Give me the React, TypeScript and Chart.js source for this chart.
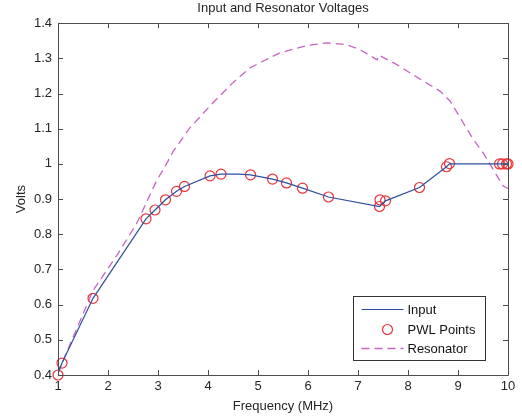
import { useEffect, useRef } from "react";
import { Chart, registerables } from "chart.js";

Chart.register(...registerables);

// PWL points (MHz, Volts)
const pwlFreq = [1.0, 1.08, 1.7, 2.76, 2.94, 3.15, 3.37, 3.53, 4.04, 4.26, 4.85, 5.29, 5.57, 5.89, 6.41, 7.43, 7.44, 7.55, 8.23, 8.77, 8.83, 9.83, 9.89, 9.97, 10.0];
const pwlVolts = [0.40, 0.434, 0.618, 0.844, 0.869, 0.898, 0.922, 0.936, 0.966, 0.971, 0.969, 0.957, 0.946, 0.931, 0.906, 0.879, 0.898, 0.895, 0.933, 0.992, 1.001, 1.0, 1.0, 1.0, 1.0];

// Input waveform
const inputFreq = [1.0, 1.08, 1.7, 2.76, 2.94, 3.15, 3.37, 3.53, 4.04, 4.26, 4.6, 4.85, 5.29, 5.57, 5.89, 6.41, 7.43, 7.55, 8.23, 8.77, 8.83, 9.83, 10.0];
const inputVolts = [0.405, 0.434, 0.618, 0.844, 0.869, 0.898, 0.922, 0.936, 0.966, 0.971, 0.971, 0.969, 0.957, 0.946, 0.931, 0.906, 0.879, 0.895, 0.933, 0.992, 1.0, 1.0, 1.0];

// Resonator waveform
const resFreq = [1.0, 1.1, 1.7, 2.2, 2.57, 2.8, 2.97, 3.15, 3.31, 3.64, 4.1, 4.5, 4.84, 5.44, 6.0, 6.37, 6.77, 7.04, 7.38, 7.42, 7.77, 8.3, 8.64, 8.84, 9.3, 9.5, 9.9, 10.0];
const resVolts = [0.405, 0.44, 0.64, 0.745, 0.83, 0.9, 0.952, 0.995, 1.037, 1.103, 1.174, 1.231, 1.273, 1.316, 1.337, 1.344, 1.339, 1.325, 1.296, 1.309, 1.283, 1.236, 1.207, 1.179, 1.071, 1.032, 0.938, 0.93];

const xTicks = [1, 2, 3, 4, 5, 6, 7, 8, 9, 10];
const yTicks = [0.4, 0.5, 0.6, 0.7, 0.8, 0.9, 1.0, 1.1, 1.2, 1.3, 1.4];

const FONT = "'Liberation Sans', Arial, Helvetica, sans-serif";
const TEXT = "#262626";
const AXIS = "#4d4d4d";
const BLUE = "#2e4f9e";
const RED = "#e8343a";
const PINK = "#c765c4";

const toXY = (xs: number[], ys: number[]) => xs.map((x, i) => ({ x, y: ys[i] }));

const framePlugin = {
  id: "frame",
  afterDatasetsDraw(chart: any) {
    const { ctx, chartArea, scales } = chart;
    const { left, right, top, bottom } = chartArea;
    const x = scales.x;
    const y = scales.y;
    const tl = 5;
    ctx.save();
    ctx.strokeStyle = AXIS;
    ctx.lineWidth = 1;
    ctx.beginPath();
    ctx.rect(Math.round(left) + 0.5, Math.round(top) + 0.5, Math.round(right - left), Math.round(bottom - top));
    ctx.stroke();
    ctx.beginPath();
    xTicks.forEach((v) => {
      const px = Math.round(x.getPixelForValue(v)) + 0.5;
      ctx.moveTo(px, bottom);
      ctx.lineTo(px, bottom - tl);
      ctx.moveTo(px, top);
      ctx.lineTo(px, top + tl);
    });
    yTicks.forEach((v) => {
      const py = Math.round(y.getPixelForValue(v)) + 0.5;
      ctx.moveTo(left, py);
      ctx.lineTo(left + tl, py);
      ctx.moveTo(right, py);
      ctx.lineTo(right - tl, py);
    });
    ctx.stroke();
    ctx.restore();
  },
};

const legendPlugin = {
  id: "customLegend",
  afterDraw(chart: any) {
    const { ctx, chartArea } = chart;
    const w = 132;
    const h = 64;
    const bx = Math.round(chartArea.right - 23 - w) + 0.5;
    const by = Math.round(chartArea.bottom - 15 - h) + 0.5;
    ctx.save();
    ctx.fillStyle = "#ffffff";
    ctx.fillRect(bx, by, w, h);
    ctx.strokeStyle = "#333333";
    ctx.lineWidth = 1;
    ctx.strokeRect(bx, by, w, h);
    const ds = chart.data.datasets;
    const rows = [13, 33, 52];
    ctx.font = `13px ${FONT}`;
    ctx.textBaseline = "middle";
    ctx.textAlign = "left";
    ds.forEach((d: any, i: number) => {
      const ry = by + rows[i];
      if (d.showLine) {
        ctx.save();
        ctx.strokeStyle = d.borderColor;
        ctx.lineWidth = d.borderWidth;
        ctx.setLineDash(d.borderDash || []);
        ctx.beginPath();
        ctx.moveTo(bx + 8, ry);
        ctx.lineTo(bx + 50, ry);
        ctx.stroke();
        ctx.restore();
      } else {
        ctx.save();
        ctx.strokeStyle = d.pointBorderColor;
        ctx.lineWidth = d.pointBorderWidth;
        ctx.beginPath();
        ctx.arc(bx + 34, ry, d.pointRadius, 0, Math.PI * 2);
        ctx.stroke();
        ctx.restore();
      }
      ctx.fillStyle = "#111111";
      ctx.fillText(d.label, bx + 54, ry + 0.5);
    });
    ctx.restore();
  },
};

export default function App() {
  const ref = useRef<HTMLCanvasElement | null>(null);

  useEffect(() => {
    if (!ref.current) return;
    const chart = new Chart(ref.current, {
      type: "scatter",
      data: {
        datasets: [
          {
            label: "Input",
            data: toXY(inputFreq, inputVolts),
            showLine: true,
            borderColor: BLUE,
            borderWidth: 1.2,
            pointRadius: 0,
            fill: false,
          },
          {
            label: "PWL Points",
            data: toXY(pwlFreq, pwlVolts),
            showLine: false,
            pointStyle: "circle",
            pointRadius: 5,
            pointBorderColor: RED,
            pointBackgroundColor: "rgba(0,0,0,0)",
            pointBorderWidth: 1.2,
            clip: false,
          } as any,
          {
            label: "Resonator",
            data: toXY(resFreq, resVolts),
            showLine: true,
            borderColor: PINK,
            borderWidth: 1.3,
            borderDash: [8, 5],
            pointRadius: 0,
            fill: false,
          },
        ],
      },
      options: {
        animation: false,
        responsive: false,
        events: [],
        layout: { padding: { left: 0, right: 14, top: 0, bottom: 0 } },
        plugins: {
          legend: { display: false },
          tooltip: { enabled: false },
          title: {
            display: true,
            text: "Input and Resonator Voltages",
            fullSize: false,
            color: TEXT,
            font: { family: FONT, size: 13, weight: "normal" },
            padding: { top: 1, bottom: 6.6 },
          },
        },
        scales: {
          x: {
            type: "linear",
            min: 1,
            max: 10,
            afterFit: (s: any) => {
              s.height = 45;
            },
            afterBuildTicks: (s: any) => {
              s.ticks = xTicks.map((v) => ({ value: v }));
            },
            ticks: {
              color: TEXT,
              font: { family: FONT, size: 13 },
              padding: 3.5,
              maxRotation: 0,
              autoSkip: false,
              callback: (v: any) => String(v),
            },
            grid: { display: false, drawTicks: false },
            border: { display: false },
            title: {
              display: true,
              text: "Frequency (MHz)",
              color: TEXT,
              font: { family: FONT, size: 13 },
              padding: { top: 0, bottom: 6 },
            },
          },
          y: {
            type: "linear",
            min: 0.4,
            max: 1.4,
            afterFit: (s: any) => {
              s.width = 58;
            },
            afterBuildTicks: (s: any) => {
              s.ticks = yTicks.map((v) => ({ value: v }));
            },
            ticks: {
              color: TEXT,
              font: { family: FONT, size: 13 },
              padding: 6,
              autoSkip: false,
              callback: (v: any) => String(Math.round(Number(v) * 10) / 10),
            },
            grid: { display: false, drawTicks: false },
            border: { display: false },
            title: {
              display: true,
              text: "Volts",
              color: TEXT,
              font: { family: FONT, size: 13 },
              padding: { top: 14, bottom: 0 },
            },
          },
        },
      },
      plugins: [framePlugin, legendPlugin],
    });
    return () => chart.destroy();
  }, []);

  return (
    <div style={{ position: "absolute", left: 0, top: 0, width: 522, height: 420, background: "#ffffff" }}>
      <canvas ref={ref} width={522} height={420} style={{ display: "block", width: 522, height: 420 }} />
    </div>
  );
}
